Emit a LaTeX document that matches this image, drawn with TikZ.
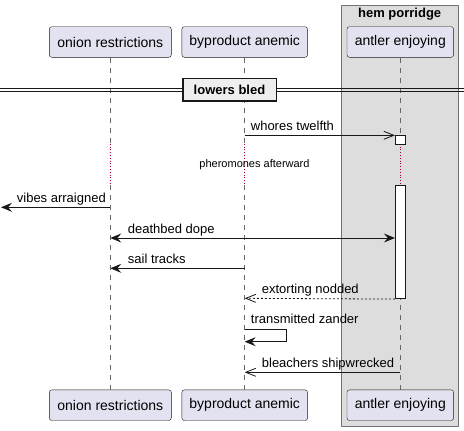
\documentclass[tikz,border=0pt]{standalone}
\usepackage{fontspec}
\setmainfont{Liberation Sans}
\usetikzlibrary{arrows.meta, calc}
\definecolor{partecipante}{HTML}{E2E2F0}
\definecolor{bordo}{HTML}{181818}
\definecolor{gruppo}{HTML}{DDDDDD}
\definecolor{divisore}{HTML}{EEEEEE}
\definecolor{ritardo}{HTML}{A80036}
\newcommand{\msgfont}{\fontsize{13}{15}\selectfont}

\begin{document}
\begin{tikzpicture}[x = 1pt, y = -1pt,
    partecipante/.style = {draw = bordo, fill = partecipante, rounded corners = 2.5pt, minimum height = 30.6pt, inner sep = 0pt, font = \fontsize{14}{16}\selectfont},
    vita/.style = {draw = black!60, dash pattern = on 5pt off 5pt, line width = 0.6pt},
    pausa/.style = {draw = ritardo, dotted, line width = 0.8pt},
    attivazione/.style = {draw = bordo, fill = white, minimum width = 10pt, inner sep = 0pt, line width = 0.8pt},
    punta/.tip = {Stealth[length = 11pt, width = 9pt, inset = 4pt]},
    piena/.style = {draw = bordo, line width = 0.8pt, -punta},
    aperta/.style = {draw = bordo, line width = 0.8pt, -{Straight Barb[length = 10pt, width = 8pt]}},
    etichetta/.style = {anchor = base west, inner sep = 0pt, font = \msgfont}]
    % Parametri
    \pgfmathsetmacro{\xo}{110.3}
    \pgfmathsetmacro{\xb}{244.7}
    \pgfmathsetmacro{\xa}{400.3}
    \pgfmathsetmacro{\ytop}{42}
    \pgfmathsetmacro{\ybot}{405.2}
    \pgfmathsetmacro{\pausaA}{143.7}
    \pgfmathsetmacro{\pausaB}{185}
    \useasboundingbox (0,0) rectangle (464,431);
    % Gruppo
    \node[draw = black!55, fill = gruppo, minimum width = 116.7pt, minimum height = 421pt, inner sep = 0pt] (hem) at (399.65,215.5) {};
    \node[anchor = north, font = \fontsize{13}{15}\selectfont\bfseries, inner sep = 0pt] (hemt) at ($(hem.north)+(0,3)$) {hem porridge};
    % Partecipanti
    \node[partecipante, minimum width = 122pt] (oT) at (\xo,\ytop) {onion restrictions};
    \node[partecipante, minimum width = 125.7pt] (bT) at (\xb,\ytop) {byproduct anemic};
    \node[partecipante, minimum width = 106.6pt] (aT) at (\xa,\ytop) {antler enjoying};
    \node[partecipante, minimum width = 122pt] (oB) at (\xo,\ybot) {onion restrictions};
    \node[partecipante, minimum width = 125.7pt] (bB) at (\xb,\ybot) {byproduct anemic};
    \node[partecipante, minimum width = 106.6pt] (aB) at (\xa,\ybot) {antler enjoying};
    % Linee di vita
    \foreach \p in {o,b,a}{
        \draw[vita] (\p T.south) -- (\p T.south |- 0,\pausaA);
        \draw[pausa] (\p T.south |- 0,\pausaA) -- (\p T.south |- 0,\pausaB);
        \draw[vita] (\p B.north |- 0,\pausaB) -- (\p B.north);
    }
    % Divisore
    \draw[bordo, line width = 0.7pt] (0,88.3) -- (464,88.3);
    \draw[bordo, line width = 0.7pt] (0,91.7) -- (464,91.7);
    \node[draw = bordo, fill = divisore, line width = 1.6pt, minimum width = 93.6pt, minimum height = 22.4pt, inner sep = 0pt, font = \fontsize{13}{15}\selectfont\bfseries] (lb) at (229.5,89.5) {lowers bled};
    % Attivazioni
    \node[attivazione, minimum height = 8.4pt, anchor = north] (att1) at (\xa,135.3) {};
    \node[attivazione, minimum height = 113.3pt, anchor = north] (att2) at (\xa,\pausaB) {};
    % Ritardo
    \node[font = \fontsize{11}{13}\selectfont, inner sep = 0pt] (rit) at (254.5,164.3) {pheromones afterward};
    % Messaggi
    \coordinate (m1) at (\xb,135.3);
    \draw[aperta] (m1) -- (m1 -| att1.west);
    \node[etichetta] (t1) at ($(m1)+(6,-5)$) {whores twelfth};
    \coordinate (m2) at (\xo,207.3);
    \coordinate (m2e) at (1,207.3);
    \draw[piena] (m2) -- (m2e);
    \node[etichetta] (t2) at ($(m2e)+(15.7,-5)$) {vibes arraigned};
    \coordinate (m3) at (\xo,238);
    \draw[piena, punta-punta] (m3) -- (m3 -| att2.west);
    \node[etichetta] (t3) at ($(m3)+(17.4,-5)$) {deathbed dope};
    \coordinate (m4) at (\xb,268.3);
    \coordinate (m4e) at (\xo,268.3);
    \draw[piena] (m4) -- (m4e);
    \node[etichetta] (t4) at ($(m4e)+(17.4,-5)$) {sail tracks};
    \coordinate (m5) at (\xb,298.3);
    \draw[aperta, dash pattern = on 2pt off 2pt] (att2.south west) -- (m5);
    \node[etichetta] (t5) at ($(m5)+(17,-5)$) {extorting nodded};
    \coordinate (m6) at (\xb,329.3);
    \coordinate (m6e) at (\xb,341.7);
    \draw[piena] (m6) -- ++(42,0) |- (m6e);
    \node[etichetta] (t6) at ($(m6)+(6,-6)$) {transmitted zander};
    \coordinate (m7) at (\xa,372.3);
    \coordinate (m7e) at (\xb,372.3);
    \draw[aperta] (m7) -- (m7e);
    \node[etichetta] (t7) at ($(m7e)+(17,-5)$) {bleachers shipwrecked};
\end{tikzpicture}
\end{document}
